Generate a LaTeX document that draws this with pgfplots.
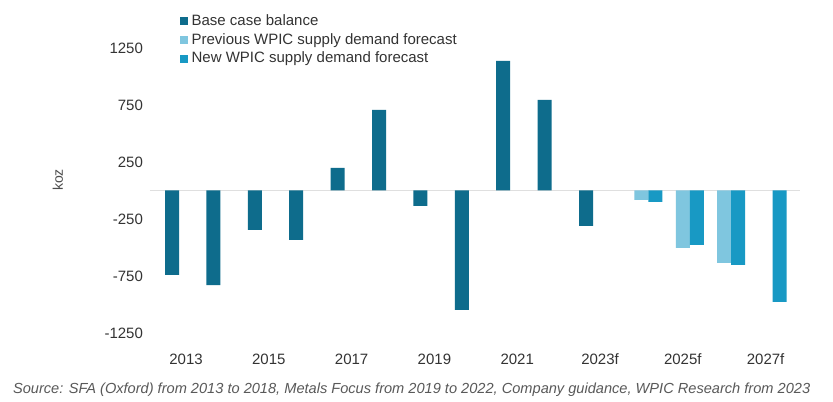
\documentclass[border=0pt]{standalone}
\usepackage{pgfplots}
\pgfplotsset{compat=1.18}
\usepackage{fontspec}
\setmainfont{Liberation Sans}
\definecolor{cdark}{HTML}{0E6C8C}
\definecolor{cprev}{HTML}{7FC6DF}
\definecolor{cnew}{HTML}{1899C4}
\begin{document}
\begin{tikzpicture}
\useasboundingbox[fill=white] (-75pt,-25.5pt) rectangle (341.5pt,175pt);
\begin{axis}[
  x=20.7pt, y=0.057pt,
  xmin=2012.13, xmax=2027.83, ymin=-1400, ymax=1583,
  axis line style={draw=none}, tick style={draw=none},
  ytick={-1250,-750,-250,250,750,1250},
  xtick={2013,2015,2017,2019,2021,2023,2025,2027},
  xticklabels={2013,2015,2017,2019,2021,2023f,2025f,2027f},
  xticklabel style={yshift=6pt},
  extra y ticks={0}, extra y tick labels={},
  extra y tick style={grid=major, grid style={draw=gray!25}},
  ticklabel style={font=\fontsize{7.5}{9}\selectfont, text=black!80},
  /pgf/number format/assume math mode=true,
  /pgf/number format/1000 sep={},
  ylabel={koz}, ylabel style={font=\fontsize{7}{8}\selectfont, text=black!70, at={(axis description cs:-0.123,0.5)}},
  ybar, bar width=7pt,
  legend style={draw=none, fill=none, at={(axis description cs:0.045,1)}, anchor=north west,
    font=\fontsize{7.5}{8.5}\selectfont, row sep=-1.5pt, inner sep=0pt, text=black!80},
  legend cell align=left,
  legend image code/.code={\fill[#1] (0pt,-2pt) rectangle (4pt,2pt);},
]
\addplot[fill=cdark, draw=none, bar shift=-7pt] coordinates {
(2013,-741) (2014,-830) (2015,-346) (2016,-434) (2017,197) (2018,706)
(2019,-136) (2020,-1048) (2021,1136) (2022,794) (2023,-311)};
\addlegendentry{Base case balance}
\addplot[fill=cprev, draw=none, bar shift=0pt] coordinates {
(2024,-83) (2025,-504) (2026,-636)};
\addlegendentry{Previous WPIC supply demand forecast}
\addplot[fill=cnew, draw=none, bar shift=7pt] coordinates {
(2024,-100) (2025,-478) (2026,-654) (2027,-978)};
\addlegendentry{New WPIC supply demand forecast}
\end{axis}
\node[anchor=west, font=\fontsize{7.3}{8}\selectfont\itshape, text=black!65] at (-72pt,-20pt)
 {Source: SFA (Oxford) from 2013 to 2018, Metals Focus from 2019 to 2022, Company guidance, WPIC Research from 2023};
\end{tikzpicture}
\end{document}
